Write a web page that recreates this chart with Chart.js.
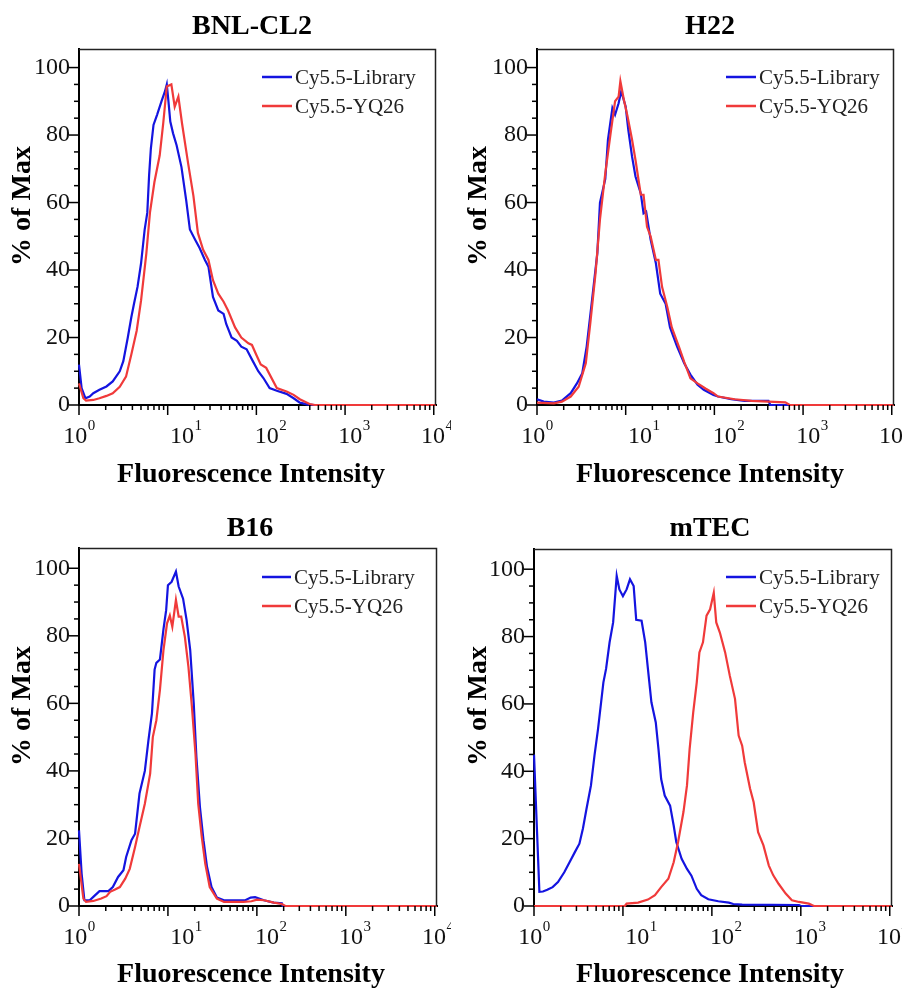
<!DOCTYPE html>
<html>
<head>
<meta charset="utf-8">
<script src="https://cdn.jsdelivr.net/npm/chart.js@4.4.1/dist/chart.umd.min.js"></script>
<style>
html,body{margin:0;padding:0;background:#fff;}
#wrap{position:relative;width:902px;height:990px;overflow:hidden;background:#fff;}
canvas{position:absolute;}
</style>
</head>
<body>
<div id="wrap">
<canvas id="c1" width="451" height="495" style="left:0;top:0"></canvas>
<canvas id="c2" width="451" height="495" style="left:451px;top:0"></canvas>
<canvas id="c3" width="451" height="495" style="left:0;top:495px"></canvas>
<canvas id="c4" width="451" height="495" style="left:451px;top:495px"></canvas>
</div>
<script>
// ---------------- data (intensity, % of max) ----------------
const seriesNames = ['Cy5.5-Library', 'Cy5.5-YQ26'];
const panelTitles = ['BNL-CL2', 'H22', 'B16', 'mTEC'];
const xTickExponents = ['0', '1', '2', '3', '4'];
const yTickValues = [0, 20, 40, 60, 80, 100];

const bnlLibraryX = [1, 1.07, 1.18, 1.32, 1.45, 1.70, 2.04, 2.40, 2.88, 3.16, 3.55, 3.89, 4.17, 4.57, 5.01, 5.50, 5.89, 6.17, 6.46, 6.92, 7.59, 8.51, 9.33, 9.77, 10.2, 10.7, 11.5, 12.6, 14.3, 16.2, 17.8, 20.4, 22.9, 26.3, 28.8, 32.4, 37.2, 42.7, 45.7, 52.5, 60.3, 67.6, 77.6, 91.2, 105, 120, 141, 170, 219, 263, 309, 372, 447, 10600];
const bnlLibraryY = [12, 5, 2, 2.5, 3.5, 4.5, 5.5, 7, 10, 13, 20, 26, 30, 35, 42, 52, 57, 68, 76, 83, 86, 90, 93, 95, 90, 84, 80.5, 77, 70.5, 60.5, 52, 49, 46.5, 43, 41, 32, 28, 27, 24, 20, 19, 17.3, 16.5, 13, 10, 8, 5, 4.2, 3.3, 2, 0.7, 0.2, 0, 0];
const bnlYQ26X = [1, 1.12, 1.20, 1.45, 1.70, 2.04, 2.40, 2.88, 3.39, 3.89, 4.47, 5.01, 5.75, 6.31, 7.08, 8.13, 8.91, 9.77, 11.0, 12.0, 13.2, 14.5, 17.0, 19.5, 21.9, 25.1, 28.8, 32.4, 37.2, 42.7, 47.9, 57.5, 67.6, 81.3, 89.1, 100, 112, 129, 170, 219, 263, 309, 398, 457, 10600];
const bnlYQ26Y = [6.4, 2, 1.3, 1.5, 2, 2.7, 3.5, 5.4, 8.4, 15, 22, 31, 45, 57, 66, 74, 83.5, 94.4, 95, 88.4, 91.4, 83.5, 71.6, 62, 51, 46, 43, 37, 33, 30.6, 28, 23, 20, 18.3, 17.8, 14.8, 12, 11, 5, 4, 3, 1.7, 0.3, 0, 0];

const h22LibraryX = [1, 1.19, 1.55, 1.91, 2.40, 2.82, 3.24, 3.63, 4.17, 4.79, 5.13, 5.89, 6.31, 7.08, 7.59, 8.32, 8.91, 10, 10.7, 11.8, 12.9, 14.8, 15.9, 17.0, 19.1, 21.9, 24.5, 28.2, 31.6, 38.0, 45.7, 53.7, 64.6, 75.9, 97.7, 110, 155, 219, 407, 427, 10600];
const h22LibraryY = [1.7, 1, 0.7, 1.3, 3.5, 6.4, 9.4, 17.3, 31, 45, 60, 67, 78.6, 88, 86, 89.4, 93, 88.4, 81.5, 73.6, 67.7, 62.7, 56.8, 57.3, 49, 42, 33, 30, 23, 17.3, 12.4, 9, 6, 4.5, 3, 2.5, 1.7, 1.2, 1.2, 0, 0];
const h22YQ26X = [1, 1.55, 1.91, 2.40, 2.95, 3.55, 3.98, 4.57, 5.13, 5.89, 6.76, 7.59, 8.32, 8.71, 9.55, 10.5, 11.8, 12.9, 14.8, 15.9, 17.4, 19.1, 21.9, 23.4, 25.7, 29.5, 33.1, 39.8, 45.7, 53.7, 64.6, 79.4, 97.7, 110, 170, 263, 631, 708, 10600];
const h22YQ26Y = [0.7, 0.5, 1, 2.5, 5.4, 12.4, 24, 39, 55, 68.7, 80.5, 90, 91.4, 96, 90.4, 85.5, 78.6, 72.6, 62.3, 62.3, 52.8, 50, 43, 43, 35, 29, 23, 17.3, 12.8, 7.9, 6.4, 4.9, 3.5, 2.5, 1.7, 1.2, 0.8, 0, 0];

const b16LibraryX = [1, 1.07, 1.15, 1.32, 1.45, 1.70, 2.14, 2.40, 2.75, 3.16, 3.39, 3.89, 4.27, 4.79, 5.50, 6.03, 6.61, 7.08, 7.41, 8.13, 8.91, 9.55, 10, 11.0, 12.3, 13.2, 14.8, 16.2, 17.8, 19.5, 20.9, 22.9, 25.1, 27.5, 30.9, 35.5, 42.7, 55.0, 74.1, 85.1, 95.5, 120, 155, 191, 195, 10600];
const b16LibraryY = [22.4, 9.6, 1.7, 1.7, 2.7, 4.4, 4.4, 5.6, 8.6, 10.6, 14.5, 19.5, 21.4, 33.3, 40, 49, 57, 70, 72, 73, 82, 87.6, 95, 96, 99, 94.6, 91, 84.7, 75.8, 60, 44, 29.3, 19.5, 11.6, 5.6, 2.5, 1.7, 1.7, 1.7, 2.5, 2.6, 1.7, 1, 0.8, 0, 0];
const b16YQ26X = [1, 1.12, 1.20, 1.45, 1.78, 2.04, 2.24, 2.51, 2.88, 3.31, 3.72, 4.27, 4.79, 5.50, 6.31, 6.76, 7.41, 8.13, 8.91, 9.77, 10.5, 11.2, 12.3, 13.2, 14.1, 15.5, 17.0, 18.6, 20.4, 21.9, 24.0, 26.3, 29.5, 35.5, 42.7, 70.8, 87.1, 100, 120, 155, 191, 209, 10600];
const b16YQ26Y = [12.5, 2.2, 1.2, 1.5, 2.2, 2.9, 4.2, 4.8, 5.6, 8.1, 11, 17.5, 23.4, 30.3, 39.2, 50, 55, 64, 75.8, 83.7, 86, 82.7, 90.6, 85.7, 85.7, 79.7, 70.8, 59, 45, 30.3, 20.5, 12.5, 5.6, 2.2, 1.2, 1.2, 1.4, 1.9, 1.7, 1, 0.6, 0, 0];

const mtecLibraryX = [1, 1.15, 1.26, 1.41, 1.62, 1.86, 2.19, 2.51, 2.88, 3.24, 3.55, 3.89, 4.37, 4.79, 5.25, 6.03, 6.46, 7.08, 7.76, 8.51, 9.12, 10, 11.0, 12.0, 13.2, 14.1, 16.2, 17.8, 19.1, 20.9, 23.4, 25.1, 26.9, 29.5, 33.9, 37.2, 39.8, 45.7, 52.5, 58.9, 67.6, 75.9, 91.2, 118, 155, 174, 219, 955, 1000, 10600];
const mtecLibraryY = [45, 4.2, 4.3, 4.8, 5.6, 7.1, 10, 13, 16, 18.5, 23, 28.8, 35.8, 44.7, 52.6, 66.4, 70.4, 78.3, 84.2, 98, 94, 92, 94, 97, 95, 85, 84.7, 78.3, 70.4, 60.5, 54.5, 46.6, 37.7, 32.8, 29.8, 23.9, 19, 14, 11, 9, 5.1, 3.2, 2, 1.4, 1, 0.6, 0.4, 0.3, 0, 0];
const mtecYQ26X = [1, 10.5, 11.0, 14.8, 19.1, 22.9, 26.9, 32.4, 37.2, 41.7, 47.9, 52.5, 56.2, 61.7, 67.6, 72.4, 79.4, 87.1, 95.5, 105, 112, 123, 141, 159, 182, 200, 219, 234, 269, 295, 331, 380, 437, 490, 562, 676, 794, 955, 1230, 1350, 1410, 10600];
const mtecYQ26Y = [0, 0, 0.7, 1, 1.9, 3.2, 5.6, 8.1, 13, 19, 27.9, 35.8, 46.6, 57.5, 66.4, 75.3, 78.3, 86.2, 88.1, 93, 84.2, 81.2, 75.3, 68.4, 61.5, 50.6, 47.6, 42.7, 34.8, 30.8, 21.9, 18, 12, 9.1, 6.6, 3.7, 1.7, 1.2, 0.7, 0.2, 0, 0];

// ---------------- layout / style ----------------
const FONT = "'Liberation Serif', 'Times New Roman', Times, serif";
const BLUE = '#1414e0';
const RED = '#f03a3a';
const X_MIN = 1, X_MAX = 10600;
const LABEL_SHIFT = [0, 18, 14, 9, 3];

const panels = [
  {id: 'c1', title: panelTitles[0], lib: [bnlLibraryX, bnlLibraryY], yq: [bnlYQ26X, bnlYQ26Y], ymax: 105.5,
   box: {left: 79, top: 49, right: 436, bottom: 405}, titlePos: [252, 27], xTitlePos: [251, 475], yTitlePos: [23, 206], legend: {x0: 262, x1: 292, y0: 77, dy: 29}},
  {id: 'c2', title: panelTitles[1], lib: [h22LibraryX, h22LibraryY], yq: [h22YQ26X, h22YQ26Y], ymax: 105.5,
   box: {left: 86, top: 49, right: 443, bottom: 405}, titlePos: [259, 27], xTitlePos: [259, 475], yTitlePos: [28, 206], legend: {x0: 275, x1: 305, y0: 77, dy: 29}},
  {id: 'c3', title: panelTitles[2], lib: [b16LibraryX, b16LibraryY], yq: [b16YQ26X, b16YQ26Y], ymax: 106,
   box: {left: 79, top: 53, right: 437, bottom: 411}, titlePos: [250, 34], xTitlePos: [251, 480], yTitlePos: [23, 211], legend: {x0: 262, x1: 291, y0: 82, dy: 29}},
  {id: 'c4', title: panelTitles[3], lib: [mtecLibraryX, mtecLibraryY], yq: [mtecYQ26X, mtecYQ26Y], ymax: 106,
   box: {left: 83, top: 54, right: 441, bottom: 411}, titlePos: [259, 34], xTitlePos: [259, 480], yTitlePos: [28, 211], legend: {x0: 275, x1: 305, y0: 82, dy: 29}}
];

function pts(xs, ys) { return xs.map((x, i) => ({x: x, y: ys[i]})); }

const decorPlugin = {
  id: 'decor',
  afterDraw(chart, args, opts) {
    const P = opts.panel;
    const {ctx, chartArea: a} = chart;
    const xs = chart.scales.x, ys = chart.scales.y;
    ctx.save();
    // frame top & right
    ctx.strokeStyle = '#222';
    ctx.lineWidth = 1.5;
    ctx.beginPath();
    ctx.moveTo(a.left, a.top + 0.5);
    ctx.lineTo(a.right - 0.5, a.top + 0.5);
    ctx.lineTo(a.right - 0.5, a.bottom);
    ctx.stroke();
    // y ticks (major + minor)
    ctx.strokeStyle = '#000';
    ctx.lineWidth = 1.5;
    for (let v = 0; v <= 100; v += 5) {
      const py = ys.getPixelForValue(v);
      const len = yTickValues.includes(v) ? 10 : 5;
      ctx.beginPath();
      ctx.moveTo(a.left - len, py);
      ctx.lineTo(a.left, py);
      ctx.stroke();
    }
    // x ticks
    for (let d = 0; d < xTickExponents.length; d++) {
      const base = Math.pow(10, d);
      const px = xs.getPixelForValue(base);
      ctx.beginPath();
      ctx.moveTo(px, a.bottom);
      ctx.lineTo(px, a.bottom + 10);
      ctx.stroke();
      if (d < xTickExponents.length - 1) {
        for (let m = 2; m <= 9; m++) {
          const mx = xs.getPixelForValue(base * m);
          ctx.beginPath();
          ctx.moveTo(mx, a.bottom);
          ctx.lineTo(mx, a.bottom + 5);
          ctx.stroke();
        }
      }
    }
    // x tick labels 10^n
    ctx.fillStyle = '#111';
    ctx.textBaseline = 'alphabetic';
    ctx.textAlign = 'left';
    xTickExponents.forEach((e, d) => {
      const px = xs.getPixelForValue(Math.pow(10, d)) + LABEL_SHIFT[d];
      ctx.font = '24px ' + FONT;
      const w10 = ctx.measureText('10').width;
      ctx.font = '15px ' + FONT;
      const we = ctx.measureText(e).width;
      const x0 = px - (w10 + we) / 2;
      ctx.font = '24px ' + FONT;
      ctx.fillText('10', x0, a.bottom + 38);
      ctx.font = '15px ' + FONT;
      ctx.fillText(e, x0 + w10 + 0.5, a.bottom + 25);
    });
    // panel title
    ctx.fillStyle = '#000';
    ctx.textAlign = 'center';
    ctx.textBaseline = 'middle';
    ctx.font = 'bold 28px ' + FONT;
    ctx.fillText(P.title, P.titlePos[0], P.titlePos[1]);
    // x axis title
    ctx.fillText('Fluorescence Intensity', P.xTitlePos[0], P.xTitlePos[1]);
    // y axis title
    ctx.save();
    ctx.translate(P.yTitlePos[0], P.yTitlePos[1]);
    ctx.rotate(-Math.PI / 2);
    ctx.fillText('% of Max', 0, 0);
    ctx.restore();
    // legend
    const L = P.legend;
    chart.data.datasets.forEach((ds, i) => {
      const yy = L.y0 + i * L.dy;
      ctx.strokeStyle = ds.borderColor;
      ctx.lineWidth = 2.5;
      ctx.beginPath();
      ctx.moveTo(L.x0, yy);
      ctx.lineTo(L.x1, yy);
      ctx.stroke();
      ctx.fillStyle = '#222';
      ctx.textAlign = 'left';
      ctx.textBaseline = 'middle';
      ctx.font = '21px ' + FONT;
      ctx.fillText(ds.label, L.x1 + 3, yy + 1);
    });
    ctx.restore();
  }
};

panels.forEach(P => {
  const W = 451, H = 495;
  new Chart(document.getElementById(P.id), {
    type: 'line',
    data: {
      datasets: [
        {label: seriesNames[0], data: pts(P.lib[0], P.lib[1]), borderColor: BLUE, borderWidth: 2.2, order: 2,
         pointRadius: 0, tension: 0, fill: false, clip: {left: 2, top: 0, right: 2, bottom: 3}},
        {label: seriesNames[1], data: pts(P.yq[0], P.yq[1]), borderColor: RED, borderWidth: 2.2, order: 1,
         pointRadius: 0, tension: 0, fill: false, clip: {left: 2, top: 0, right: 2, bottom: 3}}
      ]
    },
    options: {
      responsive: false,
      animation: false,
      devicePixelRatio: 1,
      layout: {padding: {left: 0, top: P.box.top, right: W - P.box.right, bottom: 0}},
      plugins: {
        legend: {display: false},
        title: {display: false},
        tooltip: {enabled: false},
        decor: {panel: P}
      },
      scales: {
        x: {
          type: 'logarithmic', min: X_MIN, max: X_MAX,
          afterFit: s => { s.height = H - P.box.bottom; },
          ticks: {display: false},
          grid: {display: false, drawTicks: false},
          border: {display: true, color: '#000', width: 2}
        },
        y: {
          type: 'linear', min: 0, max: P.ymax,
          afterFit: s => { s.width = P.box.left; },
          afterBuildTicks: s => { s.ticks = yTickValues.map(v => ({value: v})); },
          ticks: {color: '#111', padding: 9, font: {family: FONT, size: 24}, callback: v => String(v)},
          grid: {display: false, drawTicks: false},
          border: {display: true, color: '#000', width: 2}
        }
      }
    },
    plugins: [decorPlugin]
  });
});
</script>
</body>
</html>
